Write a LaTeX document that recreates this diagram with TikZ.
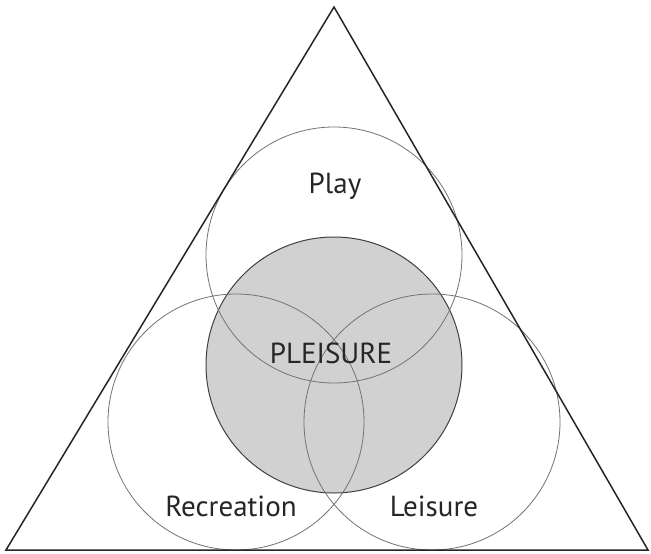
\documentclass[tikz,border=0pt]{standalone}
\usepackage{fontspec}
\setmainfont{PT Sans}
\begin{document}
\begin{tikzpicture}[x=1pt,y=-1pt,
  ring/.style={draw=black!55, line width=0.8pt},
  core/.style={draw=black!75, line width=1pt, fill=black!18},
  lbl/.style={font=\fontsize{29}{32}\selectfont, inner sep=0pt, anchor=base, text=black!85}]
\useasboundingbox (0,0) rectangle (651,554);
\fill[white] (0,0) rectangle (651,554);
\node[core, circle, minimum size=256pt, inner sep=0pt] (pleasure) at (334,365) {};
\node[ring, circle, minimum size=256pt, inner sep=0pt] (play) at (334,255) {};
\node[ring, circle, minimum size=256pt, inner sep=0pt] (rec) at (236,422) {};
\node[ring, circle, minimum size=256pt, inner sep=0pt] (leis) at (432,422) {};
\coordinate (apex) at (334,7);
\coordinate (bl) at (6,550);
\coordinate (br) at (648,550);
\draw[line width=1.5pt, black!85, line join=miter] (apex) -- (br) -- (bl) -- cycle;
\node[lbl] (tplay) at (335,193) {Play};
\node[lbl] (tple) at (331,363) {PLEISURE};
\node[lbl] (trec) at (231,516) {Recreation};
\node[lbl] (tleis) at (434,516) {Leisure};
\end{tikzpicture}
\end{document}
